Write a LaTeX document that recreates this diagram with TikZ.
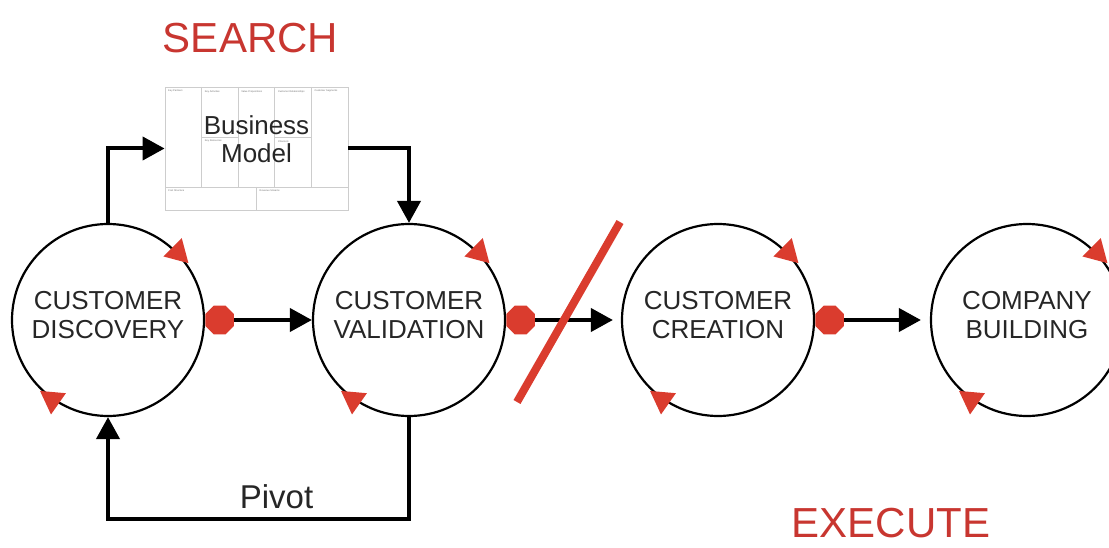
\documentclass[tikz,border=0pt]{standalone}
\usepackage{fontspec}
\setmainfont{Liberation Sans}
\usetikzlibrary{arrows.meta,shapes.geometric}
\definecolor{sred}{RGB}{218,60,46}
\definecolor{tred}{RGB}{200,54,48}
\definecolor{gridgray}{RGB}{205,205,205}
\tikzset{
 stage/.style={circle, draw=black, line width=2.2pt, minimum size=192pt, inner sep=0pt},
 ctext/.style={font=\fontsize{26}{29}\selectfont, align=center, text=black!85, inner sep=0pt},
 oct/.style={regular polygon, regular polygon sides=8, fill=sred, minimum size=31pt, inner sep=0pt, anchor=west},
 arr/.style={line width=4pt, -{Triangle[length=22pt,width=23pt]}},
 tri/.style={regular polygon, regular polygon sides=3, fill=sred, minimum size=30pt, inner sep=0pt},
 bigred/.style={font=\fontsize{42}{50}\selectfont, text=tred, anchor=base, inner sep=0pt},
 cell/.style={draw=gridgray, line width=0.8pt},
 tinylbl/.style={font=\fontsize{2.5}{3}\selectfont, text=black!55, anchor=north west, inner sep=0pt},
}
\begin{document}
\begin{tikzpicture}[x=1pt,y=-1pt]
\useasboundingbox (0,0) rectangle (1109,548);
% titles
\node[bigred] (search) at (250.5,53) {SEARCH};
\node[bigred] (execute) at (891,537) {EXECUTE};
% business model canvas
\node[cell, fill=white, minimum width=183pt, minimum height=123pt, inner sep=0pt] (bm) at (256.5,148.5) {};
\draw[cell] (165,187) -- (348,187);
\draw[cell] (201.6,87) -- (201.6,187);
\draw[cell] (238.2,87) -- (238.2,187);
\draw[cell] (274.8,87) -- (274.8,187);
\draw[cell] (311.4,87) -- (311.4,187);
\draw[cell] (201.6,137) -- (238.2,137);
\draw[cell] (274.8,137) -- (311.4,137);
\draw[cell] (256.5,187) -- (256.5,210);
\node[tinylbl] (kp) at (168,90) {Key Partners};
\node[tinylbl] (ka) at (204.6,90) {Key Activities};
\node[tinylbl] (kr) at (204.6,140) {Key Resources};
\node[tinylbl] (vp) at (241.2,90) {Value Propositions};
\node[tinylbl] (cr) at (277.8,90) {Customer Relationships};
\node[tinylbl] (ch) at (277.8,140) {Channels};
\node[tinylbl] (cs) at (314.4,90) {Customer Segments};
\node[tinylbl] (cst) at (168,190) {Cost Structure};
\node[tinylbl] (rs) at (259.5,190) {Revenue Streams};
\node[font=\fontsize{26}{28}\selectfont, align=center, text=black!85, inner sep=0pt] (bmt) at (256.5,139) {Business\\Model};
% stages
\node[stage] (d) at (108,320) {};
\node[stage] (v) at (409,320) {};
\node[stage] (c) at (718,320) {};
\node[stage] (b) at (1027,320) {};
\node[ctext] (dt) at (108,315.5) {CUSTOMER\\DISCOVERY};
\node[ctext] (vt) at (409,315.5) {CUSTOMER\\VALIDATION};
\node[ctext] (ct) at (718,315.5) {CUSTOMER\\CREATION};
\node[ctext] (bt) at (1027,315.5) {COMPANY\\BUILDING};
% cycle arrowheads
\foreach \n in {d,v,c,b}{
  \node[tri, rotate=-135] (\n-ta) at (\n.44) {};
  \node[tri, rotate=55] (\n-tb) at (\n.235) {};
}
% octagons
\node[oct] (o1) at (d.east) {};
\node[oct] (o2) at (v.east) {};
\node[oct] (o3) at (c.east) {};
% connectors
\draw[arr] (o1) -- (v);
\draw[arr, shorten >=8pt] (o2) -- (c);
\draw[arr, shorten >=9pt] (o3) -- (b);
\draw[arr] (d.north) |- (bm.west);
\draw[arr] (bm.east) -| (v.north);
\draw[arr] (v.south) -- ++(0,102) -| (d.south);
\node[font=\fontsize{33}{40}\selectfont, anchor=base, text=black!85, inner sep=0pt] (pivot) at (276.5,508) {Pivot};
% slash
\draw[sred, line width=8pt] (517,402) -- (620,222);
\end{tikzpicture}
\end{document}
